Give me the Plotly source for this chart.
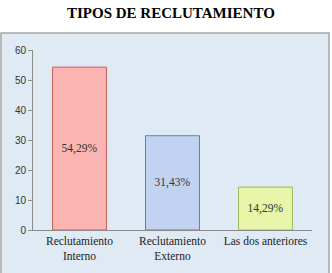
import plotly.graph_objects as go

categories = ["Reclutamiento<br>Interno", "Reclutamiento<br>Externo", "Las dos anteriores"]
values = [54.29, 31.43, 14.29]
labels = ["54,29%", "31,43%", "14,29%"]
fill_colors = ["#fbb4b2", "#c2d3f2", "#e6f5a8"]
line_colors = ["#c0615e", "#5b7fc0", "#9bbb59"]

fig = go.Figure()
fig.add_trace(go.Bar(
    x=categories, y=values, text=labels,
    textposition="inside", insidetextanchor="middle",
    textfont=dict(family="Liberation Serif", size=11.5, color="#333333"),
    marker=dict(color=fill_colors, line=dict(color=line_colors, width=1)),
    width=0.58, hoverinfo="skip",
))

fig.update_layout(
    width=332, height=273,
    margin=dict(l=33, r=20, t=50, b=43),
    paper_bgcolor="white", plot_bgcolor="rgba(0,0,0,0)",
    showlegend=False,
    shapes=[dict(type="rect", xref="paper", yref="paper", layer="below",
                 x0=-0.1147, x1=1.061, y0=-0.27, y1=1.094,
                 fillcolor="#e0eaf5", line=dict(color="#a6a6a6", width=1.5))],
    annotations=[dict(text="<b>TIPOS DE RECLUTAMIENTO</b>", xref="paper", yref="paper",
                      x=0.495, y=1.206, xanchor="center", yanchor="middle", showarrow=False,
                      font=dict(family="Liberation Serif", size=15, color="black"))],
)
fig.update_yaxes(range=[0, 60], dtick=10, showgrid=False, showline=True, linecolor="#8c8c8c",
                 ticks="outside", ticklen=4, tickcolor="#8c8c8c",
                 tickfont=dict(family="Liberation Sans", size=10, color="#333333"), zeroline=False)
fig.update_xaxes(showline=True, linecolor="#8c8c8c", ticks="", showgrid=False,
                 tickfont=dict(family="Liberation Serif", size=11.5, color="#222222"))

fig.write_html("out.html")
